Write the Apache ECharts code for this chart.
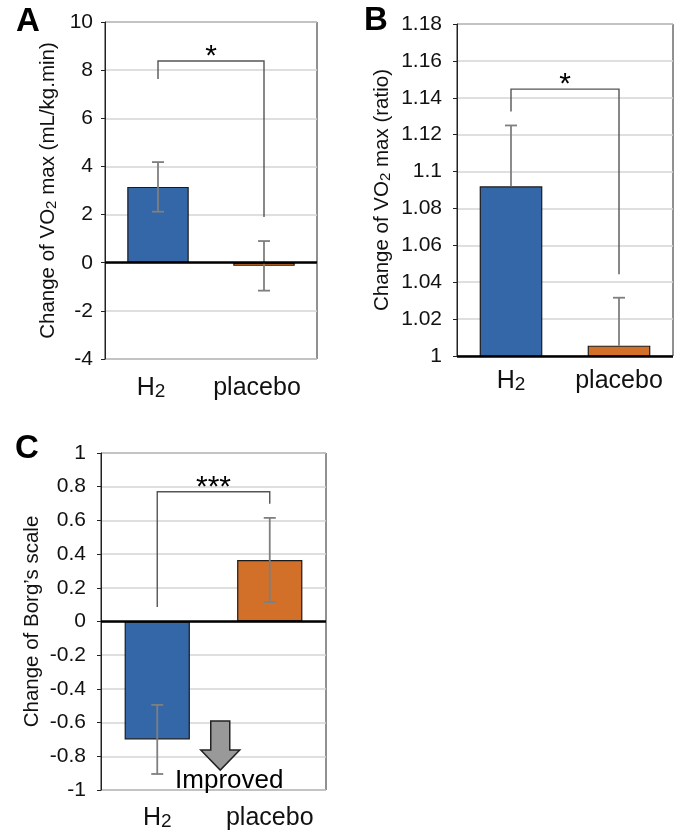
<!DOCTYPE html>
<html>
<head>
<meta charset="utf-8">
<script src="https://cdn.jsdelivr.net/npm/echarts@6/dist/echarts.min.js"></script>
<style>
  html, body { margin: 0; padding: 0; background: #fff; }
  #main { width: 677px; height: 831px; }
</style>
</head>
<body>
<div id="main"></div>
<script>
// groups and values
const categories = ['H2', 'placebo'];
const barColors = ['#3467a8', '#d2702a'];

// A: change of VO2 max (mL/kg.min)
const aValues = [3.15, -0.13];
const aErrUp = [1.03, 1.03];
const aErrDown = [1.03, 1.03];
const aBracket = [7.63, 1.9, 8.38];   // left end, right end, top
// B: change of VO2 max (ratio)
const bValues = [1.092, 1.0056];
const bErrUp = [0.033, 0.026];
const bErrDown = [0, 0];
const bBracket = [1.1325, 1.0443, 1.1447];
// C: change of Borg's scale
const cValues = [-0.70, 0.365];
const cErrUp = [0.205, 0.25];
const cErrDown = [0.205, 0.25];
const cBracket = [0.0855, 0.699, 0.77];
const cArrow = [0.56, -0.59, -0.762, -0.882]; // x (category units), top, head start, tip
const cNote = [0.64, -0.946];

const baselines = [0, 1, 0];
const sigLabels = ['*', '*', '***'];
const axisNames = [
  'Change of VO{sub|2} max (mL/kg.min)',
  'Change of VO{sub|2} max (ratio)',
  'Change of Borg\u2019s scale'
];
const yMin = [-4, 1, -1];
const yMax = [10, 1.18, 1];
const yStep = [2, 0.02, 0.2];

let chart = echarts.init(document.getElementById('main'));

const grids = [
  { left: 105, top: 22, width: 212, height: 337 },
  { left: 457, top: 24, width: 216, height: 332 },
  { left: 101, top: 453, width: 225, height: 339 }
];
const nameGaps = [46, 64, 58];
const labelMargins = [12, 15, 15];
const catMargins = [17, 13, 16];
const catPadding = [[0, 14, 0, 0], 0, 0];

function errorRender(params, api) {
  const x = api.value(0), v = api.value(1), up = api.value(2), dn = api.value(3);
  const top = api.coord([x, v + up]);
  const bot = api.coord([x, v - dn]);
  const st = { stroke: '#7f7f7f', lineWidth: 1.8 };
  const kids = [
    { type: 'line', shape: { x1: top[0], y1: top[1], x2: bot[0], y2: bot[1] }, style: st },
    { type: 'line', shape: { x1: top[0] - 6, y1: top[1], x2: top[0] + 6, y2: top[1] }, style: st }
  ];
  if (dn > 0) {
    kids.push({ type: 'line', shape: { x1: bot[0] - 6, y1: bot[1], x2: bot[0] + 6, y2: bot[1] }, style: st });
  }
  return { type: 'group', children: kids };
}

function bracketRender(label) {
  return function (params, api) {
    const l = api.value(0), r = api.value(1), t = api.value(2);
    const p1 = api.coord([0, l]), p2 = api.coord([0, t]);
    const p3 = api.coord([1, t]), p4 = api.coord([1, r]);
    return {
      type: 'group',
      children: [
        { type: 'polyline', shape: { points: [p1, p2, p3, p4] },
          style: { stroke: '#555', lineWidth: 1.4, fill: null } },
        { type: 'text', x: (p2[0] + p3[0]) / 2, y: p2[1] - 4,
          style: { text: label, fontSize: 30, fill: '#000', align: 'center',
                   verticalAlign: 'middle', fontFamily: 'Liberation Sans' } }
      ]
    };
  };
}

function arrowRender(params, api) {
  const x = api.value(0), t = api.value(1), h = api.value(2), tip = api.value(3);
  const a = api.coord([0, t]), b = api.coord([0, h]), c = api.coord([0, tip]);
  const c0 = api.coord([0, 0]), c1 = api.coord([1, 0]);
  const cx = c0[0] + (c1[0] - c0[0]) * x;
  const sw = 9.5, hw = 19.5;
  return {
    type: 'polygon',
    shape: { points: [
      [cx - sw, a[1]], [cx + sw, a[1]], [cx + sw, b[1]], [cx + hw, b[1]],
      [cx, c[1]], [cx - hw, b[1]], [cx - sw, b[1]]
    ] },
    style: { fill: '#999', stroke: '#222', lineWidth: 1.5 }
  };
}

function noteRender(params, api) {
  const x = api.value(0), y = api.value(1);
  const c0 = api.coord([0, y]), c1 = api.coord([1, y]);
  return {
    type: 'text', x: c0[0] + (c1[0] - c0[0]) * x, y: c0[1],
    style: { text: 'Improved', fontSize: 26, fill: '#000', align: 'center',
             verticalAlign: 'middle', fontFamily: 'Liberation Sans' }
  };
}

const values = [aValues, bValues, cValues];
const errUps = [aErrUp, bErrUp, cErrUp];
const errDowns = [aErrDown, bErrDown, cErrDown];
const brackets = [aBracket, bBracket, cBracket];

const xAxes = [], yAxes = [], series = [];
for (let k = 0; k < 3; k++) {
  xAxes.push({
    type: 'category', gridIndex: k, data: categories,
    axisLine: { show: false }, axisTick: { show: false },
    axisLabel: {
      interval: 0, fontSize: 25, color: '#111', margin: catMargins[k], padding: catPadding[k],
      formatter: v => v === 'H2' ? 'H{sub|2}' : v,
      rich: { sub: { fontSize: 19, verticalAlign: 'bottom', color: '#111' } }
    }
  });
  yAxes.push({
    type: 'value', gridIndex: k, min: yMin[k], max: yMax[k], interval: yStep[k],
    name: axisNames[k], nameLocation: 'middle', nameRotate: 90, nameGap: nameGaps[k],
    nameTextStyle: { fontSize: 20.5, color: '#111',
                     rich: { sub: { fontSize: 15, verticalAlign: 'bottom', color: '#111' } } },
    axisLine: { show: true, lineStyle: { color: '#222', width: 1 } },
    axisTick: { show: true, length: 4, lineStyle: { color: '#222' } },
    axisLabel: { fontSize: 21, color: '#111', margin: labelMargins[k] },
    splitLine: { lineStyle: { color: '#d4d4d4', width: 1.5 } }
  });
  series.push({
    type: 'bar', xAxisIndex: k, yAxisIndex: k, barWidth: '58%', clip: true,
    data: values[k].map((v, i) => ({ value: v, itemStyle: { color: barColors[i] } })),
    itemStyle: { borderColor: '#1a1a1a', borderWidth: 1.2 },
    markLine: {
      silent: true, symbol: 'none', label: { show: false },
      lineStyle: { color: '#000', width: 2.6, type: 'solid' },
      data: [{ yAxis: baselines[k] }]
    },
    z: 2
  });
  series.push({
    type: 'custom', xAxisIndex: k, yAxisIndex: k, z: 4,
    renderItem: errorRender,
    data: values[k].map((v, i) => [i, v, errUps[k][i], errDowns[k][i]])
  });
  series.push({
    type: 'custom', xAxisIndex: k, yAxisIndex: k, z: 4,
    renderItem: bracketRender(sigLabels[k]),
    data: [brackets[k]]
  });
}
series.push({
  type: 'custom', xAxisIndex: 2, yAxisIndex: 2, z: 5,
  renderItem: arrowRender, data: [cArrow]
});
series.push({
  type: 'custom', xAxisIndex: 2, yAxisIndex: 2, z: 6,
  renderItem: noteRender, data: [cNote]
});

let option = {
  animation: false,
  backgroundColor: '#fff',
  textStyle: { fontFamily: 'Liberation Sans' },
  title: [
    { text: 'A', left: 16, top: 5, padding: 0, textStyle: { fontSize: 33, fontWeight: 'bold', color: '#000' } },
    { text: 'B', left: 364, top: 4, padding: 0, textStyle: { fontSize: 33, fontWeight: 'bold', color: '#000' } },
    { text: 'C', left: 15, top: 432, padding: 0, textStyle: { fontSize: 33, fontWeight: 'bold', color: '#000' } }
  ],
  grid: grids.map(g => Object.assign({ show: true, borderColor: '#222', borderWidth: 1, backgroundColor: '#fff' }, g)),
  xAxis: xAxes,
  yAxis: yAxes,
  series: series
};

chart.setOption(option);
</script>
</body>
</html>
